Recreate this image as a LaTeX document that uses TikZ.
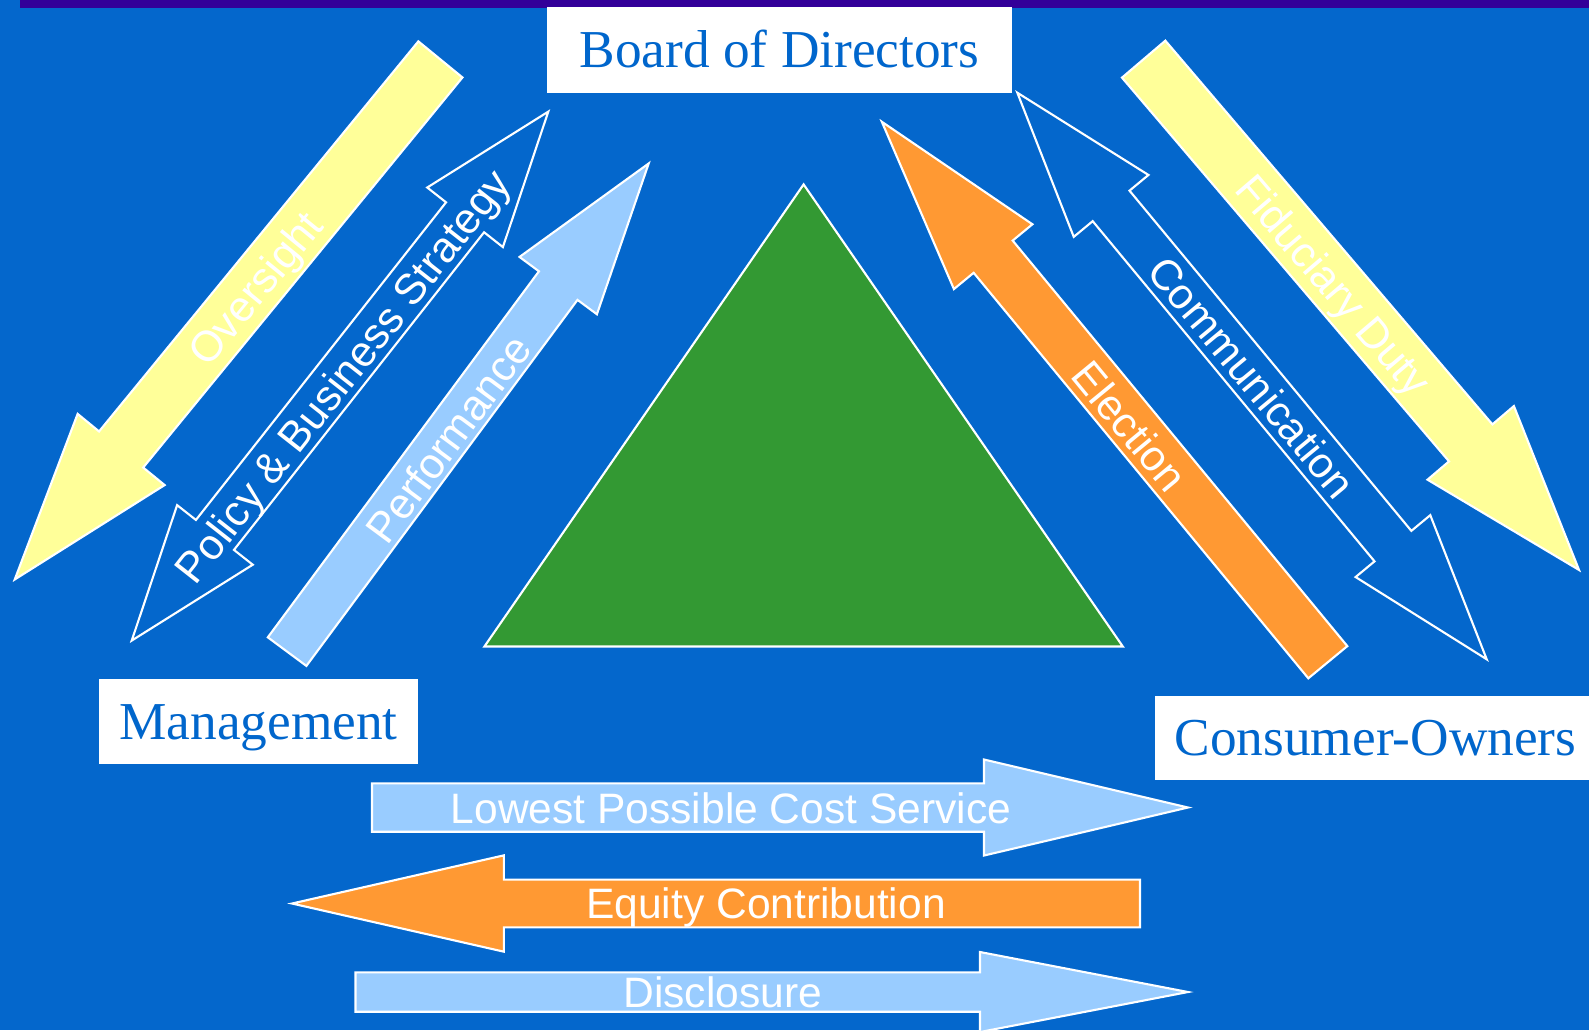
\documentclass[tikz,border=0pt]{standalone}
\usepackage{fontspec}
\setmainfont{Liberation Serif}
\setsansfont{Liberation Sans}
\definecolor{bgblue}{RGB}{4,103,204}
\definecolor{barpurple}{RGB}{51,0,153}
\definecolor{yel}{RGB}{255,255,153}
\definecolor{lblue}{RGB}{153,204,255}
\definecolor{orng}{RGB}{255,153,51}
\definecolor{grn}{RGB}{51,153,51}
\definecolor{boxtext}{RGB}{0,102,204}
% single fat arrow: tail x, tail y, angle, length, shaft width, head width, head length, style
\newcommand\fatarrow[8]{%
  \begin{scope}[shift={(#1,#2)},rotate=#3]
    \draw[#8] (0,{-#5/2}) -- ({#4-#7},{-#5/2}) -- ({#4-#7},{-#6/2}) -- (#4,0)
      -- ({#4-#7},{#6/2}) -- ({#4-#7},{#5/2}) -- (0,{#5/2}) -- cycle;
  \end{scope}}
% double fat arrow: centre x, centre y, angle, length, shaft width, head width, head length, style
\newcommand\dblarrow[8]{%
  \begin{scope}[shift={(#1,#2)},rotate=#3]
    \draw[#8] ({-#4/2},0) -- ({-#4/2+#7},{#6/2}) -- ({-#4/2+#7},{#5/2})
      -- ({#4/2-#7},{#5/2}) -- ({#4/2-#7},{#6/2}) -- ({#4/2},0)
      -- ({#4/2-#7},{-#6/2}) -- ({#4/2-#7},{-#5/2}) -- ({-#4/2+#7},{-#5/2})
      -- ({-#4/2+#7},{-#6/2}) -- cycle;
  \end{scope}}
\begin{document}
\begin{tikzpicture}[x=0.01cm,y=-0.01cm,
  edge/.style={draw=white,line width=0.6pt,line join=miter},
  yelarrow/.style={edge,fill=yel},
  bluearrow/.style={edge,fill=lblue},
  orarrow/.style={edge,fill=orng},
  openarrow/.style={edge},
  diaglbl/.style={font=\sffamily\fontsize{12.2pt}{14.6pt}\selectfont,text=white,inner sep=0pt,text height=8.8pt,text depth=0pt},
  horlbl/.style={font=\sffamily\fontsize{12.1pt}{14.5pt}\selectfont,text=white,inner sep=0pt,text height=8.7pt,text depth=0pt},
  namebox/.style={fill=white,draw=none,inner sep=0pt,text=boxtext,font=\fontsize{15.16pt}{18pt}\selectfont,text height=10pt,text depth=0pt}]
\useasboundingbox (0,0) rectangle (1589,1030);
\clip (0,0) rectangle (1589,1030);
\fill[bgblue] (0,0) rectangle (1589,1030);
\fill[barpurple] (20,0) rectangle (1589,7.5);

% left group
\fatarrow{440.4}{59.4}{-129.3}{672.1}{57}{112.4}{168}{yelarrow}
\dblarrow{340}{376.1}{51.78}{673.3}{48.4}{96.3}{134.5}{openarrow}
\fatarrow{287.1}{651.6}{53.47}{607.5}{48}{96.3}{152}{bluearrow}

% centre triangle
\draw[edge,fill=grn] (803.6,184.4) -- (1122.8,646.5) -- (484.4,646.5) -- cycle;

% right group
\fatarrow{1327.8}{662.2}{129.53}{700.8}{50.6}{101.8}{175}{orarrow}
\dblarrow{1252}{376}{-50.36}{735.8}{47.8}{97}{147}{openarrow}
\fatarrow{1143.65}{59.15}{-49.56}{671.2}{57}{113.5}{167}{yelarrow}

% bottom arrows
\fatarrow{372}{807.5}{0}{816}{48.4}{96}{204}{bluearrow}
\fatarrow{1140}{903.5}{180}{848}{47.7}{96.3}{211.8}{orarrow}
\fatarrow{355.5}{992}{0}{832.5}{39.4}{80}{208}{bluearrow}

% labels on arrows
\node[diaglbl,rotate=50.7] (oversight) at (255,288) {Oversight};
\node[diaglbl,rotate=51.78] (policy) at (342,376) {Policy \& Business Strategy};
\node[diaglbl,rotate=53.47] (performance) at (448,439) {Performance};
\node[diaglbl,rotate=-50.5] (election) at (1130,426) {Election};
\node[diaglbl,rotate=-50.36] (communication) at (1252,377) {Communication};
\node[diaglbl,rotate=-49.56] (fiduciary) at (1334,285) {Fiduciary Duty};
\node[horlbl] (lowest) at (731,808) {Lowest Possible Cost Service};
\node[horlbl] (equity) at (766,903.5) {Equity Contribution};
\node[horlbl] (disclosure) at (722.6,992) {Disclosure};

% name boxes
\node[namebox,minimum width=4.65cm,minimum height=0.86cm] (board) at (779.5,50) {Board of Directors};
\node[namebox,minimum width=3.19cm,minimum height=0.84cm] (management) at (258.5,721.5) {Management};
\node[namebox,minimum width=4.41cm,minimum height=0.844cm] (consumers) at (1375.5,737.8) {Consumer-Owners};
\end{tikzpicture}
\end{document}
